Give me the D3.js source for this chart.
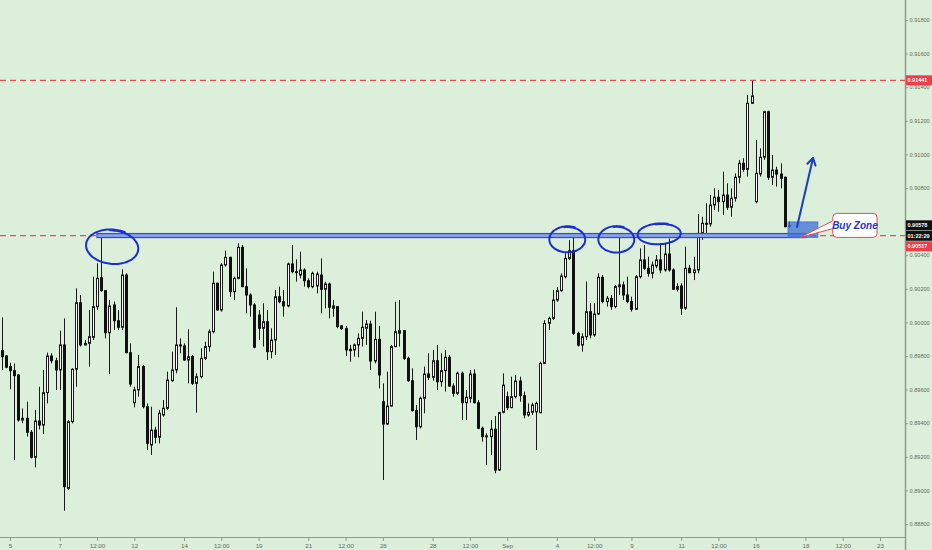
<!DOCTYPE html>
<html><head><meta charset="utf-8">
<script src="https://cdn.jsdelivr.net/npm/d3@7"></script>
<style>html,body{margin:0;padding:0;background:#dcefda;}svg{display:block;}</style>
</head><body><svg id="c" width="932" height="550"></svg>
<script>
// ---------- DATA (4H bars, bar 0 = Aug 5 00:00) ----------
const firstBar = -2;
const open = [0.89832,0.89800,0.89737,0.89713,0.89687,0.89419,0.89429,0.89346,0.89197,0.89413,0.89389,0.89582,
0.89800,0.89772,0.89717,0.89866,0.89012,0.89409,0.89721,0.90117,0.89866,0.89875,
0.89911,0.90094,0.90266,0.90189,0.89939,0.90104,0.90010,0.89971,0.90282,0.89820,
0.89522,0.89598,0.89737,0.89498,0.89270,0.89359,0.89316,0.89449,0.89489,0.89653,
0.89717,0.89866,0.89860,0.89776,0.89796,0.89637,0.89677,0.89786,0.89856,0.89945,
0.90233,0.90074,0.90342,0.90387,0.90183,0.90262,0.90447,0.90213,0.90163,0.90104,
0.90044,0.89965,0.90004,0.89826,0.89895,0.90153,0.90123,0.90098,0.90348,0.90302,
0.90282,0.90312,0.90248,0.90213,0.90217,0.90282,0.90197,0.90229,0.90084,0.90094,
0.89979,0.89963,0.89840,0.89836,0.89866,0.89905,0.89965,0.89990,0.89770,0.89899,
0.89528,0.89395,0.89502,0.89856,0.89935,0.89951,0.89786,0.89653,0.89475,0.89379,
0.89548,0.89693,0.89673,0.89772,0.89647,0.89713,0.89792,0.89621,0.89578,0.89697,
0.89522,0.89548,0.89693,0.89522,0.89370,0.89320,0.89320,0.89364,0.89121,0.89465,
0.89558,0.89493,0.89558,0.89651,0.89564,0.89449,0.89465,0.89468,0.89463,0.89756,
0.89994,0.90024,0.90133,0.90189,0.90272,0.90381,0.90427,0.89935,0.89865,0.89915,
0.90064,0.89925,0.90050,0.90268,0.90124,0.90143,0.90094,0.90213,0.90223,0.90163,
0.90124,0.90078,0.90272,0.90372,0.90322,0.90292,0.90336,0.90372,0.90312,0.90407,
0.90312,0.90197,0.90217,0.90084,0.90322,0.90296,0.90312,0.90530,0.90590,0.90586,
0.90699,0.90745,0.90719,0.90758,0.90685,0.90739,0.90864,0.90947,0.90911,0.91304,
0.90719,0.90883,0.90983,0.91254,0.90864,0.90907,0.90883,0.90864,0.90570];
const high = [0.90030,0.89806,0.89760,0.89756,0.89693,0.89488,0.89528,0.89359,0.89479,0.89617,0.89717,0.89820,
0.89816,0.89790,0.89951,0.90024,0.89419,0.89727,0.90203,0.90163,0.89895,0.90074,
0.90272,0.90352,0.90514,0.90193,0.90133,0.90124,0.90074,0.90316,0.90292,0.89875,
0.89617,0.89806,0.89746,0.89518,0.89498,0.89379,0.89479,0.89538,0.89707,0.89826,
0.90090,0.89905,0.89875,0.89959,0.89806,0.89697,0.89846,0.89885,0.89959,0.90302,
0.90237,0.90352,0.90427,0.90391,0.90272,0.90471,0.90461,0.90322,0.90173,0.90114,
0.90074,0.90114,0.90074,0.89965,0.90193,0.90213,0.90193,0.90356,0.90461,0.90375,
0.90421,0.90322,0.90262,0.90302,0.90302,0.90381,0.90242,0.90237,0.90133,0.90098,
0.89985,0.89979,0.89866,0.89875,0.89935,0.90064,0.90014,0.90010,0.90064,0.89979,
0.89637,0.89707,0.89866,0.90123,0.90133,0.89955,0.89796,0.89727,0.89508,0.89558,
0.89737,0.89816,0.89836,0.89866,0.89816,0.89836,0.89806,0.89637,0.89707,0.89707,
0.89598,0.89717,0.89721,0.89538,0.89380,0.89340,0.89419,0.89443,0.89468,0.89697,
0.89588,0.89677,0.89687,0.89677,0.89588,0.89518,0.89522,0.89528,0.89766,0.90014,
0.90034,0.90193,0.90210,0.90292,0.90411,0.90490,0.90506,0.89945,0.89935,0.90243,
0.90114,0.90114,0.90292,0.90282,0.90157,0.90163,0.90223,0.90510,0.90243,0.90272,
0.90153,0.90282,0.90441,0.90461,0.90391,0.90362,0.90401,0.90471,0.90471,0.90500,
0.90322,0.90233,0.90233,0.90451,0.90342,0.90391,0.90645,0.90629,0.90709,0.90758,
0.90798,0.90788,0.90897,0.90828,0.90798,0.90887,0.90967,0.90977,0.91354,0.91443,
0.91086,0.91036,0.91260,0.91260,0.90997,0.90927,0.90947,0.90868,0.90600];
const low = [0.89717,0.89727,0.89602,0.89181,0.89409,0.89400,0.89320,0.89190,0.89137,0.89363,0.89336,0.89518,
0.89756,0.89598,0.89598,0.88879,0.89002,0.89399,0.89617,0.89856,0.89862,0.89737,
0.89895,0.90074,0.90183,0.89905,0.89693,0.89955,0.89955,0.89955,0.89816,0.89617,
0.89494,0.89558,0.89488,0.89240,0.89211,0.89280,0.89280,0.89439,0.89479,0.89647,
0.89697,0.89816,0.89772,0.89637,0.89627,0.89463,0.89667,0.89776,0.89826,0.89935,
0.90070,0.90064,0.90332,0.90153,0.90133,0.90256,0.90209,0.90054,0.90034,0.89846,
0.89895,0.89856,0.89776,0.89786,0.89806,0.90114,0.90034,0.90090,0.90292,0.90243,
0.90262,0.90213,0.90203,0.90203,0.90173,0.90054,0.90084,0.90024,0.90034,0.89965,
0.89955,0.89800,0.89766,0.89796,0.89792,0.89856,0.89866,0.89717,0.89756,0.89607,
0.89062,0.89389,0.89498,0.89852,0.89856,0.89776,0.89647,0.89469,0.89300,0.89369,
0.89459,0.89657,0.89653,0.89598,0.89617,0.89588,0.89617,0.89558,0.89568,0.89419,
0.89419,0.89522,0.89518,0.89364,0.89290,0.89151,0.89210,0.89102,0.89117,0.89459,
0.89479,0.89489,0.89548,0.89528,0.89429,0.89439,0.89449,0.89240,0.89459,0.89752,
0.89955,0.90014,0.90123,0.90183,0.90262,0.90371,0.89925,0.89856,0.89826,0.89895,
0.89905,0.89915,0.90044,0.90114,0.90094,0.90074,0.90084,0.90163,0.90133,0.90114,
0.90064,0.90074,0.90262,0.90312,0.90272,0.90262,0.90322,0.90292,0.90302,0.90302,
0.90193,0.90183,0.90044,0.90074,0.90292,0.90252,0.90292,0.90491,0.90520,0.90570,
0.90669,0.90659,0.90639,0.90669,0.90629,0.90719,0.90828,0.90897,0.90868,0.91300,
0.90709,0.90868,0.90967,0.90848,0.90818,0.90808,0.90798,0.90566,0.90566];
const close = [0.89796,0.89733,0.89713,0.89683,0.89419,0.89429,0.89346,0.89197,0.89413,0.89389,0.89582,0.89800,
0.89772,0.89717,0.89866,0.89022,0.89409,0.89721,0.90117,0.89866,0.89875,0.89915,
0.90094,0.90262,0.90189,0.89939,0.90098,0.90010,0.89971,0.90282,0.89820,0.89633,
0.89598,0.89737,0.89498,0.89280,0.89359,0.89316,0.89459,0.89489,0.89657,0.89717,
0.89866,0.89860,0.89776,0.89796,0.89637,0.89677,0.89786,0.89856,0.89945,0.90233,
0.90074,0.90342,0.90387,0.90183,0.90262,0.90447,0.90213,0.90163,0.90104,0.89852,
0.89965,0.90004,0.89826,0.89895,0.90153,0.90123,0.90098,0.90348,0.90302,0.90297,
0.90312,0.90248,0.90213,0.90292,0.90288,0.90197,0.90229,0.90090,0.90098,0.89975,
0.89963,0.89836,0.89832,0.89866,0.89905,0.89971,0.89990,0.89770,0.89899,0.89687,
0.89395,0.89502,0.89856,0.89945,0.89951,0.89786,0.89653,0.89475,0.89379,0.89548,
0.89693,0.89673,0.89772,0.89647,0.89713,0.89792,0.89621,0.89578,0.89697,0.89522,
0.89554,0.89693,0.89522,0.89370,0.89320,0.89325,0.89364,0.89121,0.89463,0.89627,
0.89493,0.89558,0.89651,0.89564,0.89449,0.89465,0.89508,0.89518,0.89756,0.89994,
0.90024,0.90133,0.90189,0.90276,0.90381,0.90427,0.89935,0.89865,0.89915,0.90064,
0.89925,0.90050,0.90268,0.90124,0.90143,0.90094,0.90213,0.90223,0.90163,0.90124,
0.90078,0.90272,0.90372,0.90322,0.90292,0.90342,0.90372,0.90312,0.90407,0.90312,
0.90197,0.90213,0.90084,0.90322,0.90296,0.90312,0.90530,0.90590,0.90586,0.90699,
0.90745,0.90719,0.90758,0.90685,0.90739,0.90864,0.90947,0.90911,0.91304,0.91348,
0.90887,0.90983,0.91254,0.90864,0.90907,0.90883,0.90858,0.90570,0.90578];

const tickBars   = [0,12,21,30,42,51,60,72,81,90,102,111,120,132,141,150,162,171,180,192,201,210];
const tickLabels = ["5","7","12:00","12","14","12:00","19","21","12:00","26","28","12:00","Sep","4","12:00","9","11","12:00","16","18","12:00","23"];
const yTicks = [0.918,0.916,0.914,0.912,0.910,0.908,0.904,0.902,0.900,0.898,0.896,0.894,0.892,0.890,0.888];
const levels = [0.91441, 0.90517];
const lastPrice = 0.90578;
const countdown = "01:22:29";

// hand-drawn annotations (bar index / price units)
const ellipses = [
  {b:24.74, p:0.90449, rb:6.16, rp:0.000982, rot:6},
  {b:134.57, p:0.904935, rb:4.22, rp:0.000744, rot:0},
  {b:146.4, p:0.904935, rb:4.22, rp:0.000756, rot:0},
  {b:156.77, p:0.905262, rb:5.07, rp:0.000595, rot:-3}
];
const band = {b0:21, b1:192.1, p0:0.90529, p1:0.90505};
const zone = {b0:187.8, b1:195.0, p0:0.90598, p1:0.90506};
const arrow = {b0:189.97, p0:0.905679, b1:193.83, p1:0.909786};
const callout = {b0:198.6, b1:209.3, p0:0.90649, p1:0.90506, tipB:190.7, tipP:0.90506, text:"Buy Zone"};

// ---------- SCALES ----------
const plotRight = 905, axisY = 537;
const x = d3.scaleLinear().domain([0,210]).range([10,880]);
const y = d3.scaleLinear().domain([0.888,0.918]).range([524,20]);
const svg = d3.select("#c");
const font = "'Liberation Sans', Arial, sans-serif";

svg.append("defs").append("clipPath").attr("id","plot")
  .append("rect").attr("x",0).attr("y",0).attr("width",plotRight).attr("height",axisY);
const plot = svg.append("g").attr("clip-path","url(#plot)");

// candles
const bars = open.map((o,k)=>({i:firstBar+k,o,h:high[k],l:low[k],c:close[k]}));
const cg = plot.append("g");
bars.forEach(d=>{
  const cx = Math.round(x(d.i));
  cg.append("line").attr("x1",cx+0.5).attr("x2",cx+0.5)
    .attr("y1",y(d.h)).attr("y2",y(d.l)).attr("stroke","#1a1a1a").attr("stroke-width",1);
  const top = y(Math.max(d.o,d.c)), bot = y(Math.min(d.o,d.c));
  const hgt = Math.max(1, bot-top);
  if (d.c >= d.o) {
    cg.append("rect").attr("x",cx-0.5).attr("y",top).attr("width",2).attr("height",hgt)
      .attr("fill","#ffffff").attr("stroke","#1a1a1a").attr("stroke-width",1);
  } else {
    cg.append("rect").attr("x",cx-1).attr("y",top-0.5).attr("width",3).attr("height",hgt+1)
      .attr("fill","#111111");
  }
});

// dashed levels
levels.forEach(v=>{
  plot.append("line").attr("x1",0).attr("x2",plotRight).attr("y1",y(v)).attr("y2",y(v))
    .attr("stroke","#ee4a55").attr("stroke-width",1.2).attr("stroke-dasharray","6,4");
});

// blue band
plot.append("rect").attr("x",x(band.b0)).attr("y",y(band.p0))
  .attr("width",x(band.b1)-x(band.b0)).attr("height",y(band.p1)-y(band.p0))
  .attr("fill","#8aa0ea").attr("stroke","#2d4fd2").attr("stroke-width",1.2);

// buy zone rect
plot.append("rect").attr("x",x(zone.b0)).attr("y",y(zone.p0))
  .attr("width",x(zone.b1)-x(zone.b0)).attr("height",y(zone.p1)-y(zone.p0))
  .attr("fill","#3d6fd6").attr("fill-opacity",0.75).attr("stroke","#3d6fd6").attr("stroke-width",0.8);

// ellipses (hand-drawn style)
const line = d3.line().curve(d3.curveBasis);
ellipses.forEach((e,k)=>{
  const cx = x(e.b), cy = y(e.p), rx = x(e.b+e.rb)-x(e.b), ry = y(e.p)-y(e.p+e.rp);
  const rot = e.rot*Math.PI/180;
  const pts = [];
  const a0 = -Math.PI*0.55, sweep = Math.PI*2.18;
  for (let t=0;t<=60;t++){
    const a = a0 + sweep*t/60;
    const s = 1 + 0.06*(t/60) ;
    const px = rx*s*Math.cos(a), py = ry*s*Math.sin(a);
    pts.push([cx + px*Math.cos(rot) - py*Math.sin(rot), cy + px*Math.sin(rot) + py*Math.cos(rot)]);
  }
  plot.append("path").attr("d",line(pts)).attr("fill","none")
    .attr("stroke","#1b2ed6").attr("stroke-width",2).attr("stroke-linecap","round");
});

// arrow
const ax0=x(arrow.b0), ay0=y(arrow.p0), ax1=x(arrow.b1), ay1=y(arrow.p1);
plot.append("line").attr("x1",ax0).attr("y1",ay0).attr("x2",ax1).attr("y2",ay1)
  .attr("stroke","#1d3cc4").attr("stroke-width",2).attr("stroke-linecap","round");
const ang = Math.atan2(ay1-ay0, ax1-ax0);
[0.55,-0.55].forEach(da=>{
  plot.append("line").attr("x1",ax1).attr("y1",ay1)
    .attr("x2",ax1-8*Math.cos(ang+da)).attr("y2",ay1-8*Math.sin(ang+da))
    .attr("stroke","#1d3cc4").attr("stroke-width",2).attr("stroke-linecap","round");
});

// callout
const bx0=x(callout.b0), bx1=x(callout.b1), by0=y(callout.p0), by1=y(callout.p1);
const tipX=x(callout.tipB), tipY=y(callout.tipP);
plot.append("path")
  .attr("d",`M${bx0+1},${by0+7} L${tipX},${tipY} L${bx0+1},${by0+15}`)
  .attr("fill","#ffffff").attr("stroke","#e24b62").attr("stroke-width",1);
plot.append("rect").attr("x",bx0).attr("y",by0).attr("width",bx1-bx0).attr("height",by1-by0)
  .attr("rx",4).attr("fill","#ffffff").attr("stroke","#e24b62").attr("stroke-width",1);
plot.append("rect").attr("x",bx0-0.5).attr("y",by0+7.5).attr("width",2).attr("height",7).attr("fill","#ffffff");
plot.append("text").attr("x",(bx0+bx1)/2).attr("y",(by0+by1)/2+3.5).attr("text-anchor","middle")
  .attr("font-family",font).attr("font-size",10).attr("font-style","italic").attr("font-weight","bold")
  .attr("fill","#2236c8").text(callout.text);

// ---------- AXES ----------
const axisColor = "#8e9c8e", txt = "#5f6a62";
svg.append("line").attr("x1",plotRight+0.5).attr("x2",plotRight+0.5).attr("y1",0).attr("y2",550)
  .attr("stroke",axisColor).attr("stroke-width",1.5);
svg.append("line").attr("x1",0).attr("x2",plotRight).attr("y1",axisY+0.5).attr("y2",axisY+0.5)
  .attr("stroke",axisColor).attr("stroke-width",1);

const yAxis = d3.axisRight(y).tickValues(yTicks).tickSize(2).tickPadding(1.5).tickFormat(d3.format(".5f"));
const ya = svg.append("g").attr("transform",`translate(${plotRight+1},0)`).call(yAxis);
ya.select(".domain").remove();
ya.selectAll("line").attr("stroke",axisColor);
ya.selectAll("text").attr("font-family",font).attr("font-size",5.6).attr("fill",txt);

const xAxis = d3.axisBottom(x).tickValues(tickBars).tickSize(3).tickPadding(2.5)
  .tickFormat((d,k)=>tickLabels[k]);
const xa = svg.append("g").attr("transform",`translate(0,${axisY+1})`).call(xAxis);
xa.select(".domain").remove();
xa.selectAll("line").attr("stroke",axisColor);
xa.selectAll("text").attr("font-family",font).attr("font-size",6.2).attr("fill",txt);

// ---------- PRICE LABELS ----------
function tag(cy, label, fill){
  svg.append("rect").attr("x",plotRight+1).attr("y",cy-5).attr("width",932-plotRight-1).attr("height",10).attr("fill",fill);
  svg.append("text").attr("x",plotRight+2.5).attr("y",cy+2).attr("font-family",font)
    .attr("font-size",5.5).attr("font-weight","bold").attr("fill","#ffffff").text(label);
}
tag(y(levels[0]), d3.format(".5f")(levels[0]), "#ef3d4c");
const lp = y(lastPrice);
tag(lp, d3.format(".5f")(lastPrice), "#111111");
tag(lp+10.5, countdown, "#111111");
tag(lp+21, d3.format(".5f")(levels[1]), "#ef3d4c");
</script></body></html>
